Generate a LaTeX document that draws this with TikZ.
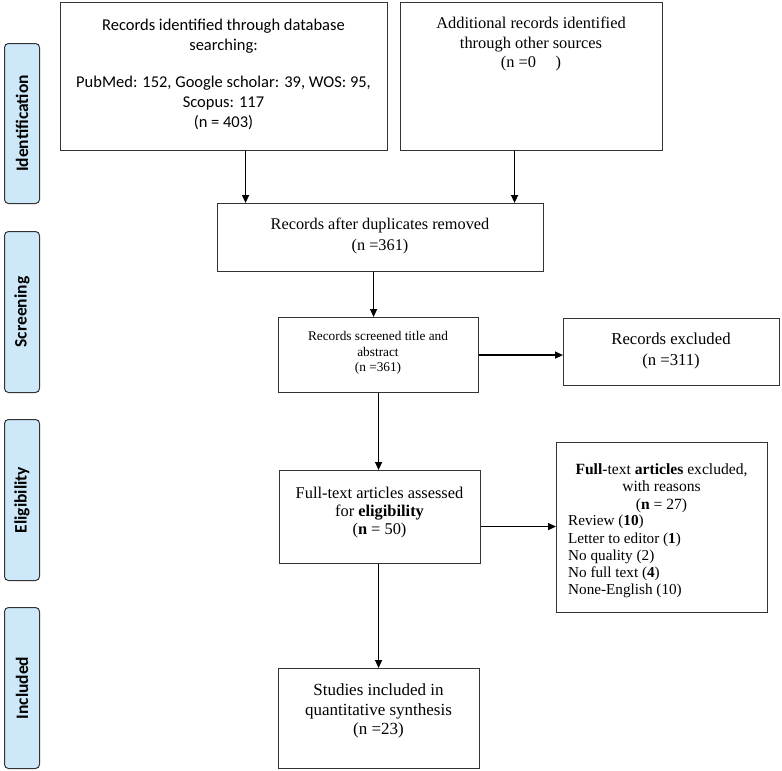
\documentclass[tikz,border=0pt]{standalone}
\usepackage{fontspec}
\setmainfont{Liberation Serif}
\newfontfamily\calfont{Carlito}
\usetikzlibrary{arrows.meta}
\definecolor{phase}{HTML}{CDE8F8}
\definecolor{edge}{HTML}{333333}
\tikzset{
  box/.style={draw=edge, line width=1.1pt, inner sep=0pt, anchor=north west},
  txt/.style={align=center, inner sep=0pt},
  arr/.style={line width=1.4pt, -{Triangle[length=8pt,width=7pt]}},
  phasebox/.style={draw=edge, line width=1pt, fill=phase, rounded corners=4pt, minimum width=35pt, inner sep=0pt, anchor=north west},
  phasetxt/.style={rotate=90, font=\calfont\bfseries\fontsize{17.5}{20}\selectfont, inner sep=0pt}
}
\begin{document}
\begin{tikzpicture}[x=1pt,y=-1pt]
\useasboundingbox (0,0) rectangle (782,771);
\fill[white] (0,0) rectangle (782,771);

% phase labels
\node[phasebox, minimum height=160pt] (P1) at (4,43) {};
\node[phasetxt] (P1t) at (P1.center) {Identification};
\node[phasebox, minimum height=161pt] (P2) at (4,231) {};
\node[phasetxt] (P2t) at (P2.center) {Screening};
\node[phasebox, minimum height=161pt] (P3) at (4,419) {};
\node[phasetxt] (P3t) at (P3.center) {Eligibility};
\node[phasebox, minimum height=161pt] (P4) at (4,607) {};
\node[phasetxt] (P4t) at (P4.center) {Included};

% boxes
\node[box, minimum width=327pt, minimum height=148pt] (A) at (60,2) {};
\node[txt, font=\calfont\fontsize{16.5}{20}\selectfont] (At) at (223.5,74)
  {Records identified through database\\searching:\\[17pt]PubMed: 152, Google scholar: 39, WOS: 95,\\Scopus: 117\\(n = 403)};

\node[box, minimum width=262pt, minimum height=148pt] (B) at (400,2) {};
\node[txt, font=\fontsize{16.4}{19.5}\selectfont] (Bt) at (531,44)
  {Additional records identified\\through other sources\\(n =0\hspace{1.2em})};

\node[box, minimum width=326pt, minimum height=68pt] (C) at (217,203) {};
\node[txt, font=\fontsize{16.3}{21}\selectfont] (Ct) at (380,236)
  {Records after duplicates removed\\(n =361)};

\node[box, minimum width=200pt, minimum height=75pt] (D) at (278,317) {};
\node[txt, font=\fontsize{13.3}{15.5}\selectfont] (Dt) at (378,353)
  {Records screened title and\\abstract\\(n =361)};

\node[box, minimum width=216pt, minimum height=67pt] (E) at (563,318) {};
\node[txt, font=\fontsize{16.7}{21}\selectfont] (Et) at (671,351)
  {Records excluded\\(n =311)};

\node[box, minimum width=201pt, minimum height=93pt] (F) at (279,470) {};
\node[txt, font=\fontsize{16.4}{18}\selectfont] (Ft) at (379.5,513)
  {Full-text articles assessed\\for \textbf{eligibility}\\(\textbf{n} = 50)};

\node[box, minimum width=211pt, minimum height=170pt] (G) at (556,442) {};
\node[txt, font=\fontsize{15.6}{17.3}\selectfont, anchor=north] (Gt) at (661.5,463.5)
  {\textbf{Full}-text \textbf{articles} excluded,\\with reasons\\(\textbf{n} = 27)};
\node[inner sep=0pt, align=left, anchor=north west, font=\fontsize{15.2}{17.3}\selectfont] (Gl) at (568,515)
  {Review (\textbf{10})\\Letter to editor (\textbf{1})\\No quality (2)\\No full text (\textbf{4})\\None-English (10)};

\node[box, minimum width=201pt, minimum height=100pt] (H) at (278,668) {};
\node[txt, font=\fontsize{17}{19.5}\selectfont] (Ht) at (378.5,711)
  {Studies included in\\quantitative synthesis\\(n =23)};

% connectors
\draw[arr] ([xshift=21.5pt]A.south) -- ([xshift=21.5pt]A.south |- C.north);
\draw[arr] ([xshift=-17pt]B.south) -- ([xshift=-17pt]B.south |- C.north);
\draw[arr] ([xshift=-7pt]C.south) -- ([xshift=-7pt]C.south |- D.north);
\draw[arr] (D.east) -- (D.east -| E.west);
\draw[arr] (D.south) -- (D.south |- F.north);
\draw[arr] ([yshift=-9.5pt]F.east) -- ([yshift=-9.5pt]F.east -| G.west);
\draw[arr] ([xshift=-1.5pt]F.south) -- ([xshift=-1.5pt]F.south |- H.north);
\end{tikzpicture}
\end{document}
